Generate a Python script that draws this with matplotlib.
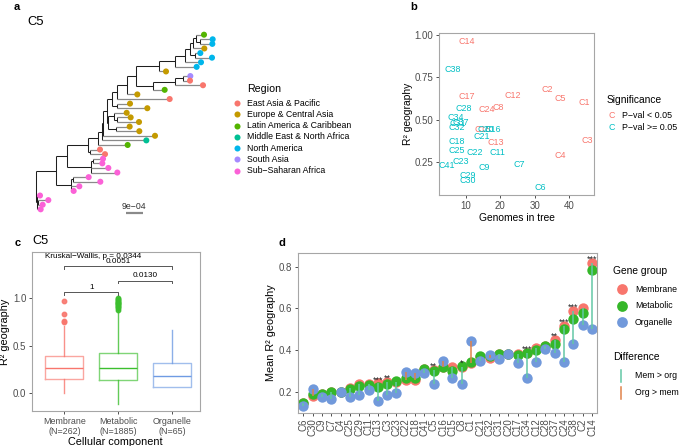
"""Four-panel figure: C5 tree by region (a), R² geography vs genomes in tree (b),
R² geography per cellular component for C5 (c), mean R² per cluster and gene group (d).

Writes out.png at 685x446 px.
"""

import re

import matplotlib
matplotlib.use("Agg")
import matplotlib.pyplot as plt
from matplotlib.collections import LineCollection
from matplotlib.ticker import FormatStrFormatter

plt.rcParams["font.family"] = ["Liberation Sans", "DejaVu Sans"]

W, H = 685, 446
MINUS = "\u2212"

# ---- a: C5 tree (branch lengths in BL_UNIT subst/site), tips coloured by region ----
BL_UNIT = 1.8e-5
TREE_NEWICK = (
    "((((((((((((((((((LAC_1:24,(NAM_2:38,NAM_3:37):12):8,ECA_4:33):10,"
    "(NAM_5:16,NAM_6:51):15):15,NAM_7:48):30,NAM_8:65):47,ECA_9:20):70,"
    "(((SAS_10:21,EAP_11:20):25,EAP_12:84):67,LAC_13:36):50):28,ECA_14:32):30,"
    "EAP_15:159):15,(ECA_16:40,ECA_17:92):15):13,"
    "((ECA_18:37,(ECA_19:42,ECA_20:67):7):18,(ECA_21:42,ECA_22:71):22):3):12,"
    "ECA_23:155):5,MENA_24:134):10,LAC_25:88):30,(EAP_26:30,EAP_27:45):5):63,"
    "((SSA_28:31,SSA_29:29):6,SSA_30:53,SSA_31:80):70):35,"
    "((SSA_32:46,SSA_33:81):8,SSA_34:26,SSA_35:9):45):59,"
    "(SSA_36:10,(SSA_37:31,SSA_38:14):4,SSA_39:12):2);"
)
REGION_CODES = ["EAP", "ECA", "LAC", "MENA", "NAM", "SAS", "SSA"]
REGION_NAMES = ["East Asia & Pacific", "Europe & Central Asia", "Latin America & Caribbean",
                "Middle East & North Africa", "North America", "South Asia",
                f"Sub{MINUS}Saharan Africa"]
REGION_COLORS = ["#F8766D", "#C49A00", "#53B400", "#00C094", "#00B6EB", "#A58AFF", "#FB61D7"]
SCALE_BAR = 9e-4
SCALE_LABEL = f"9e{MINUS}04"

# ---- b: R² geography vs genomes in tree per cluster ----
B_LABELS = ["C14", "C38", "C17", "C12", "C2", "C5", "C1", "C28", "C24", "C8", "C34", "C37",
            "C31", "C32", "C15", "C20", "C16", "C21", "C13", "C18", "C3", "C25", "C22", "C11",
            "C4", "C23", "C41", "C9", "C7", "C29", "C30", "C6"]
B_GENOMES = [10.2, 6.1, 10.2, 23.5, 33.6, 37.4, 44.3, 9.2, 16.0, 19.4, 7.1, 8.4,
             7.6, 7.2, 14.8, 15.6, 17.7, 14.5, 18.5, 7.4, 45.3, 7.4, 12.4, 19.2,
             37.4, 8.4, 4.4, 15.4, 25.4, 10.4, 10.4, 31.5]
B_R2 = [0.961, 0.797, 0.635, 0.645, 0.676, 0.623, 0.603, 0.566, 0.559, 0.571, 0.512, 0.483,
        0.476, 0.457, 0.442, 0.442, 0.442, 0.402, 0.363, 0.369, 0.375, 0.320, 0.305, 0.305,
        0.291, 0.252, 0.233, 0.217, 0.237, 0.174, 0.143, 0.100]
B_SIGNIF = [1, 0, 1, 1, 1, 1, 1, 0, 1, 1, 0, 0,
            0, 0, 1, 0, 0, 0, 1, 0, 1, 0, 0, 0,
            1, 0, 0, 0, 0, 0, 0, 0]
SIG_NAMES = [f"P{MINUS}val < 0.05", f"P{MINUS}val >= 0.05"]
SIG_COLORS = ["#F8766D", "#00BFC4"]

# ---- c: C5 R² geography by cellular component (box stats) ----
C_GROUPS = ["Membrane", "Metabolic", "Organelle"]
C_N = [262, 1885, 65]
C_Q1 = [0.149, 0.135, 0.062]
C_MED = [0.268, 0.261, 0.181]
C_Q3 = [0.386, 0.418, 0.313]
C_WLO = [0.0, -0.112, 0.062]
C_WHI = [0.70, 0.87, 0.661]
C_FLIERS = [[0.745, 0.76, 0.825, 0.965],
            [0.875, 0.89, 0.90, 0.91, 0.92, 0.93, 0.94, 0.95, 0.96, 0.97, 0.98, 0.99, 1.0],
            []]
C_COLORS = ["#F8766D", "#3CBF2E", "#6F9BE3"]
C_PAIRS = [(1, 2), (2, 3), (1, 3)]
C_PVALS = ["1", "0.0130", "0.0051"]
C_KW = f"Kruskal{MINUS}Wallis, p = 0.0344"

# ---- d: mean R² geography per cluster and gene group ----
D_CLUSTERS = ["C6", "C30", "C9", "C7", "C4", "C25", "C29", "C11", "C13", "C3", "C23", "C22",
              "C18", "C41", "C5", "C16", "C15", "C8", "C1", "C21", "C32", "C31", "C20", "C17",
              "C34", "C12", "C28", "C37", "C24", "C38", "C2", "C14"]
D_MEMBRANE = [0.145, 0.181, 0.187, 0.197, 0.198, 0.218, 0.237, 0.237, 0.240, 0.248, 0.248, 0.256,
              0.256, 0.307, 0.304, 0.320, 0.317, 0.320, 0.339, 0.368, 0.360, 0.379, 0.379, 0.381,
              0.386, 0.408, 0.419, 0.448, 0.517, 0.587, 0.603, 0.819]
D_METABOLIC = [0.147, 0.189, 0.189, 0.198, 0.199, 0.215, 0.227, 0.232, 0.224, 0.238, 0.251, 0.267,
               0.267, 0.309, 0.299, 0.317, 0.301, 0.322, 0.344, 0.371, 0.370, 0.382, 0.381, 0.376,
               0.387, 0.400, 0.418, 0.429, 0.502, 0.547, 0.576, 0.786]
D_ORGANELLE = [0.133, 0.211, 0.176, 0.163, 0.200, 0.176, 0.184, 0.206, 0.157, 0.182, 0.195, 0.293,
               0.291, 0.288, 0.235, 0.349, 0.264, 0.237, 0.443, 0.349, 0.376, 0.355, 0.382, 0.336,
               0.264, 0.341, 0.405, 0.384, 0.344, 0.427, 0.520, 0.502]
D_STARS = ["", "", "", "", "", "", "", "", "***", "**", "", "",
           "", "", "**", "", "", "*", "", "", "", "", "", "",
           "***", "", "", "**", "***", "***", "", "***"]
D_GROUPS = ["Membrane", "Metabolic", "Organelle"]
D_COLORS = ["#F8766D", "#35B729", "#7199DB"]
DIFF_NAMES = ["Mem > org", "Org > mem"]
DIFF_COLORS = ["#63C7A6", "#E0824A"]

TICK_GREY = "#4D4D4D"
BORDER = "#A6A6A6"


def px_rect(left, top, right, bottom):
    """Axes rect in figure fractions from pixel edges (origin top-left)."""
    return [left / W, 1 - bottom / H, (right - left) / W, (bottom - top) / H]


def style_axes(ax, size=7):
    for s in ax.spines.values():
        s.set_color(BORDER)
        s.set_linewidth(0.8)
    ax.tick_params(length=2.5, width=0.6, color="#333333", labelcolor=TICK_GREY,
                   labelsize=size, pad=1.5)


def parse_newick(text):
    tokens = re.findall(r"[(),;]|[^(),;]+", text)
    pos = 0

    def node():
        nonlocal pos
        kids = []
        if tokens[pos] == "(":
            pos += 1
            kids.append(node())
            while tokens[pos] == ",":
                pos += 1
                kids.append(node())
            pos += 1  # ')'
        label = ""
        if tokens[pos] not in ("(", ")", ",", ";"):
            label = tokens[pos]
            pos += 1
        name, _, bl = label.partition(":")
        return {"name": name, "bl": float(bl or 0) * BL_UNIT, "children": kids}

    return node()


def layout_tree(node, depth, tips):
    node["x"] = depth + node["bl"]
    if not node["children"]:
        node["y"] = len(tips)
        tips.append(node)
        return
    for kid in node["children"]:
        layout_tree(kid, node["x"], tips)
    ys = [k["y"] for k in node["children"]]
    node["y"] = (min(ys) + max(ys)) / 2


def collect_segments(node, inner, outer):
    kids = node["children"]
    if not kids:
        return
    ys = [k["y"] for k in kids]
    inner.append([(node["x"], min(ys)), (node["x"], max(ys))])
    for kid in kids:
        seg = [(node["x"], kid["y"]), (kid["x"], kid["y"])]
        (outer if not kid["children"] else inner).append(seg)
        collect_segments(kid, inner, outer)


def panel_a(fig):
    ax = fig.add_axes(px_rect(0, 0, 340, 230))
    ax.axis("off")
    root = parse_newick(TREE_NEWICK)
    tips = []
    layout_tree(root, 0.0, tips)
    # 1 px = 3 tree units of the reading grid; root sits 36 px from the left
    per_px = 3 * BL_UNIT
    ax.set_xlim(-36 * per_px, (340 - 36) * per_px)
    ax.set_ylim((230 - 34.7) / 4.595, -34.7 / 4.595)

    inner, outer = [], []
    collect_segments(root, inner, outer)
    ax.add_collection(LineCollection(inner, colors="#1f1f1f", linewidths=0.75))
    ax.add_collection(LineCollection(outer, colors="#8a8a8a", linewidths=0.9))
    cols = [REGION_COLORS[REGION_CODES.index(t["name"].split("_")[0])] for t in tips]
    ax.scatter([t["x"] for t in tips], [t["y"] for t in tips], s=19, c=cols,
               linewidths=0, zorder=3)

    x0 = 90 * per_px
    ax.plot([x0, x0 + SCALE_BAR], [38.9, 38.9], color="#8a8a8a", lw=1.6,
            solid_capstyle="butt")
    ax.text(x0 + SCALE_BAR / 2, 37.3, SCALE_LABEL,
            fontsize=6.3, ha="center", va="center", color="#333333")


def panel_b(fig):
    ax = fig.add_axes(px_rect(439, 33, 594, 195))
    style_axes(ax)
    for lab, g, r, sig in zip(B_LABELS, B_GENOMES, B_R2, B_SIGNIF):
        ax.text(g, r, lab, color=SIG_COLORS[0 if sig else 1], fontsize=6.4,
                ha="center", va="center")
    ax.set_xlim(2.15, 47.2)
    ax.set_ylim(0.057, 1.01)
    ax.set_xticks([10, 20, 30, 40])
    ax.set_yticks([0.25, 0.5, 0.75, 1.0])
    ax.yaxis.set_major_formatter(FormatStrFormatter("%.2f"))
    ax.set_xlabel("Genomes in tree", fontsize=7.4, labelpad=1.5)
    ax.set_ylabel("R² geography", fontsize=7.4, labelpad=1.5)


def panel_c(fig):
    ax = fig.add_axes(px_rect(32, 252, 199.5, 411))
    style_axes(ax)
    stats = [{"q1": q1, "med": m, "q3": q3, "whislo": lo, "whishi": hi, "fliers": f}
             for q1, m, q3, lo, hi, f in zip(C_Q1, C_MED, C_Q3, C_WLO, C_WHI, C_FLIERS)]
    for i, (st, col) in enumerate(zip(stats, C_COLORS)):
        ax.bxp([st], positions=[i + 1], widths=0.7, showcaps=False,
               boxprops=dict(color=col, alpha=0.65, lw=1.0),
               whiskerprops=dict(color=col, alpha=0.8, lw=1.0),
               medianprops=dict(color=col, lw=1.0),
               flierprops=dict(marker="o", markersize=3.2, markerfacecolor=col,
                               markeredgecolor=col, alpha=0.9))
    levels = [1.06, 1.18, 1.33]
    for (a, b), p, y in zip(C_PAIRS, C_PVALS, levels):
        ax.plot([a, a, b, b], [y - 0.03, y, y, y - 0.03], color="#555555", lw=0.7)
        ax.text((a + b) / 2, y + 0.012, p, fontsize=5.9, ha="center", va="bottom")
    ax.text(0.64, 1.43, C_KW, fontsize=5.9, ha="left", va="center")
    ax.set_xlim(0.4, 3.51)
    ax.set_ylim(-0.184, 1.478)
    ax.set_yticks([0.0, 0.5, 1.0])
    ax.set_xticks([1, 2, 3])
    ax.set_xticklabels([f"{g}\n(N={n})" for g, n in zip(C_GROUPS, C_N)],
                       fontsize=6.4, linespacing=1.15)
    ax.set_xlabel("Cellular component", fontsize=7.8, labelpad=1)
    ax.set_ylabel("R² geography", fontsize=7.8, labelpad=2)


def panel_d(fig):
    ax = fig.add_axes(px_rect(298, 252.7, 596.7, 412.7))
    style_axes(ax)
    xs = list(range(1, len(D_CLUSTERS) + 1))
    for vals, col in zip([D_MEMBRANE, D_METABOLIC, D_ORGANELLE], D_COLORS):
        ax.scatter(xs, vals, s=56, color=col, linewidths=0, zorder=2)
    segs = [[(x, m), (x, o)] for x, m, o in zip(xs, D_MEMBRANE, D_ORGANELLE)]
    cols = [DIFF_COLORS[0] if m >= o else DIFF_COLORS[1]
            for m, o in zip(D_MEMBRANE, D_ORGANELLE)]
    ax.add_collection(LineCollection(segs, colors=cols, linewidths=1.1, zorder=3))
    for x, st, m, g, o in zip(xs, D_STARS, D_MEMBRANE, D_METABOLIC, D_ORGANELLE):
        if st:
            ax.text(x, max(m, g, o) + 0.004, st, fontsize=6.5, ha="center",
                    va="baseline", color="#222222")
    ax.set_xlim(0.43, 32.5)
    ax.set_ylim(0.099, 0.867)
    ax.set_yticks([0.2, 0.4, 0.6, 0.8])
    ax.set_xticks(xs)
    ax.set_xticklabels(D_CLUSTERS, rotation=90, fontsize=7)
    ax.set_ylabel("Mean R² geography", fontsize=7.8, labelpad=2)


def overlay(fig):
    """Legends, panel letters and titles, placed in pixel space."""
    ov = fig.add_axes([0, 0, 1, 1])
    ov.set_xlim(0, W)
    ov.set_ylim(H, 0)
    ov.axis("off")

    for letter, x, y in [("a", 17, 6.5), ("b", 414, 6.5), ("c", 18, 242.5), ("d", 281.5, 242.5)]:
        ov.text(x, y, letter, fontsize=8, fontweight="bold", ha="center", va="center")
    ov.text(27, 22, "C5", fontsize=9.4, ha="left", va="center")
    ov.text(32.5, 241, "C5", fontsize=9.2, ha="left", va="center")

    # region legend (a)
    ov.text(247.5, 89, "Region", fontsize=7.7, ha="left", va="center")
    for i, (name, col) in enumerate(zip(REGION_NAMES, REGION_COLORS)):
        y = 103 + i * 11.28
        ov.scatter([237.3], [y], s=19, color=col, linewidths=0)
        ov.text(247, y, name, fontsize=6.3, ha="left", va="center")

    # significance legend (b)
    ov.text(606.5, 100, "Significance", fontsize=7.4, ha="left", va="center")
    for i, (name, col) in enumerate(zip(SIG_NAMES, SIG_COLORS)):
        y = 116 + i * 11
        ov.text(612, y, "C", fontsize=6.4, color=col, ha="center", va="center")
        ov.text(622.5, y, name, fontsize=6.4, ha="left", va="center")

    # gene group / difference legends (d)
    ov.text(613.3, 271, "Gene group", fontsize=7.4, ha="left", va="center")
    for i, (name, col) in enumerate(zip(D_GROUPS, D_COLORS)):
        y = 289.3 + i * 16.5
        ov.scatter([621.7], [y], s=60, color=col, linewidths=0)
        ov.text(635, y, name, fontsize=6.3, ha="left", va="center")
    ov.text(613.3, 357.5, "Difference", fontsize=7.4, ha="left", va="center")
    for i, (name, col) in enumerate(zip(DIFF_NAMES, DIFF_COLORS)):
        y = 375.5 + i * 17
        ov.plot([621.5, 621.5], [y - 6, y + 6], color=col, lw=1.1)
        ov.text(635, y, name, fontsize=6.3, ha="left", va="center")


def main():
    fig = plt.figure(figsize=(W / 100, H / 100), dpi=100)
    panel_a(fig)
    panel_b(fig)
    panel_c(fig)
    panel_d(fig)
    overlay(fig)
    fig.savefig("out.png", dpi=100)
    plt.close(fig)


if __name__ == "__main__":
    main()
